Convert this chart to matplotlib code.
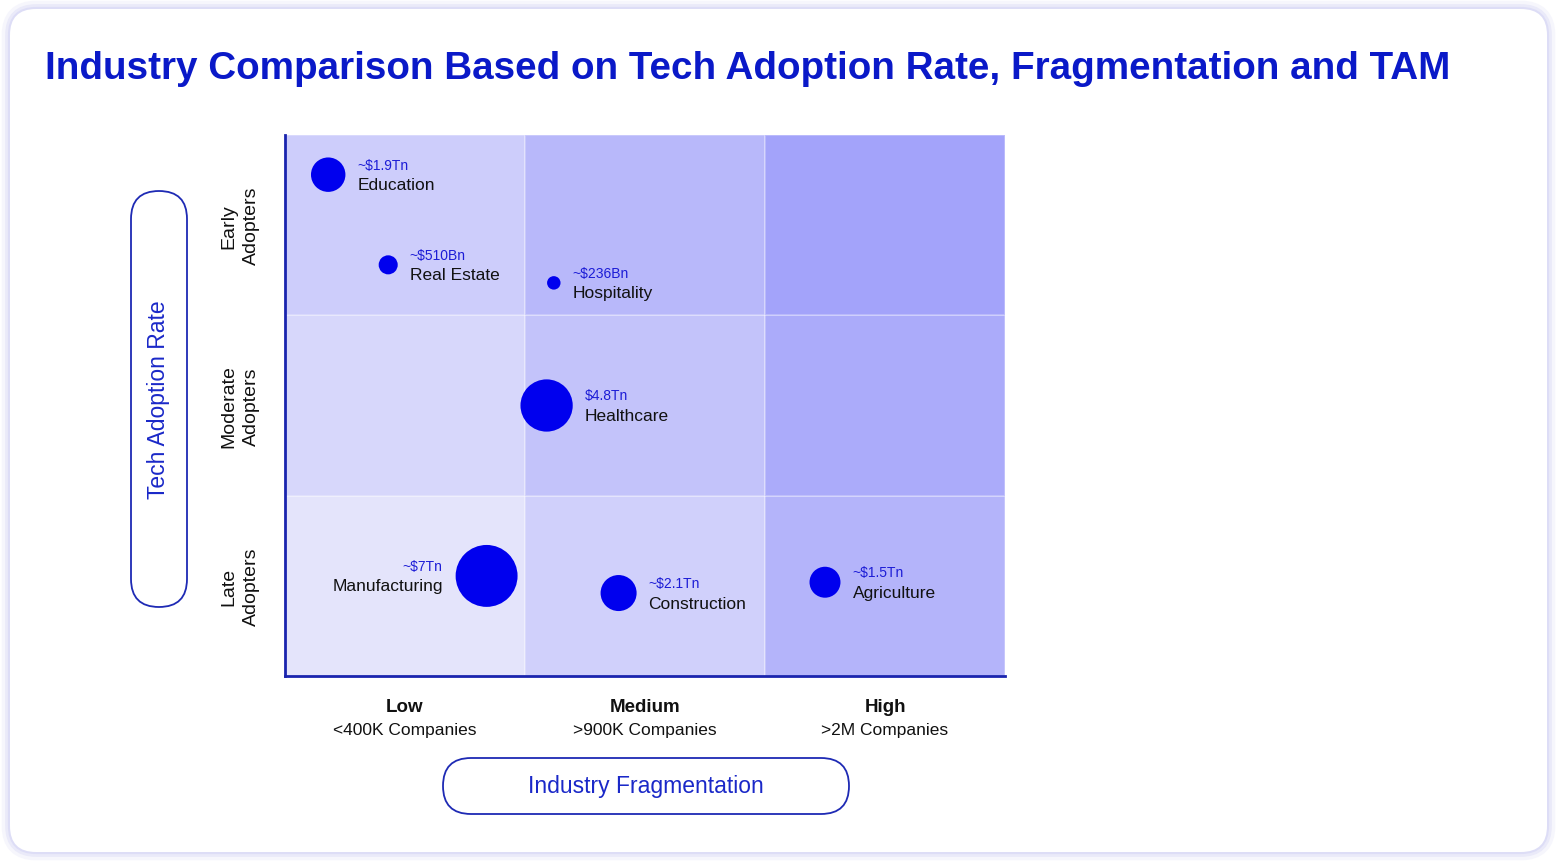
import matplotlib
matplotlib.use('Agg')
import matplotlib.pyplot as plt
import matplotlib.transforms as mtransforms
from matplotlib.patches import FancyBboxPatch, Rectangle
import numpy as np

plt.rcParams['font.family'] = ['Liberation Sans', 'DejaVu Sans']

# data
industries = ['Education', 'Real Estate', 'Hospitality', 'Healthcare',
              'Manufacturing', 'Construction', 'Agriculture']
tam_labels = ['~$1.9Tn', '~$510Bn', '~$236Bn', '$4.8Tn', '~$7Tn', '~$2.1Tn', '~$1.5Tn']
tam_tn = [1.9, 0.51, 0.236, 4.8, 7.0, 2.1, 1.5]
fragmentation = [0.18, 0.43, 1.12, 1.09, 0.84, 1.39, 2.25]   # 0..3, Low/Medium/High bands
adoption = [2.78, 2.28, 2.18, 1.50, 0.555, 0.46, 0.52]       # 0..3, Late/Moderate/Early bands

frag_levels = ['Low', 'Medium', 'High']
frag_counts = ['<400K Companies', '>900K Companies', '>2M Companies']
adoption_levels = ['Late\nAdopters', 'Moderate\nAdopters', 'Early\nAdopters']

W, H, DPI = 1556, 862, 100
fig = plt.figure(figsize=(W / DPI, H / DPI), dpi=DPI)
fig.patch.set_facecolor('white')
pix = mtransforms.IdentityTransform()

# card with soft lavender border
for lw, a in [(12, 0.25), (7, 0.45), (3, 0.9)]:
    fig.patches.append(FancyBboxPatch((10, 9), 1537, 843, boxstyle='round,pad=0,rounding_size=26',
                                      transform=pix, facecolor='none', edgecolor='#DCDCF6',
                                      linewidth=lw, alpha=a, zorder=-2))
fig.patches.append(FancyBboxPatch((10, 9), 1537, 843, boxstyle='round,pad=0,rounding_size=26',
                                  transform=pix, facecolor='white', edgecolor='none', zorder=-1))

fig.text(45 / W, 1 - 69 / H, 'Industry Comparison Based on Tech Adoption Rate, Fragmentation and TAM',
         fontsize=27.8, fontweight='bold', color='#0A19C8', ha='left', va='center')

ax = fig.add_axes([285 / W, 1 - 677 / H, 720 / W, 541 / H])
ax.set_xlim(0, 3)
ax.set_ylim(0, 3)
ax.set_facecolor('none')

shades = [['#E4E4FB', '#D0D0FB', '#B4B4FA'],
          ['#D7D7FB', '#C3C3FA', '#ABABFA'],
          ['#CDCDFB', '#B8B8FA', '#A3A3FA']]
for r in range(3):
    for c in range(3):
        ax.add_patch(Rectangle((c, r), 1, 1, facecolor=shades[r][c], edgecolor=(1, 1, 1, 0.3),
                               linewidth=1.2, zorder=1))

for s in ['top', 'right']:
    ax.spines[s].set_visible(False)
for s in ['left', 'bottom']:
    ax.spines[s].set_color('#1A24AE')
    ax.spines[s].set_linewidth(2)
    ax.spines[s].set_zorder(5)
ax.set_xticks([])
ax.set_yticks([])

# bubbles, scaled from TAM
radius_px = 12.9 * np.array(tam_tn) ** 0.45
sizes = (2 * radius_px * 72 / DPI) ** 2
ax.scatter(fragmentation, adoption, s=sizes, color='#0000EE', edgecolors='none', zorder=3)

for name, lab, x, y, r in zip(industries, tam_labels, fragmentation, adoption, radius_px):
    if name == 'Manufacturing':
        dx, ha = -(r + 13), 'right'
    else:
        dx, ha = r + 12, 'left'
    ax.annotate(lab, (x, y), xytext=(dx, 10), textcoords='offset pixels', ha=ha, va='center',
                fontsize=10, color='#1C1CD6', zorder=4)
    ax.annotate(name, (x, y), xytext=(dx, -10), textcoords='offset pixels', ha=ha, va='center',
                fontsize=12.5, color='#111111', zorder=4)

# category labels
for i, (lvl, cnt) in enumerate(zip(frag_levels, frag_counts)):
    ax.annotate(lvl, (i + 0.5, 0), xycoords=('data', 'axes fraction'), xytext=(0, -31),
                textcoords='offset pixels', ha='center', va='center', fontsize=13.5,
                fontweight='bold', color='#111111')
    ax.annotate(cnt, (i + 0.5, 0), xycoords=('data', 'axes fraction'), xytext=(0, -54),
                textcoords='offset pixels', ha='center', va='center', fontsize=12.5, color='#111111')
for i, lvl in enumerate(adoption_levels):
    ax.annotate(lvl, (0, i + 0.5), xycoords=('axes fraction', 'data'), xytext=(-45, 0),
                textcoords='offset pixels', ha='center', va='center', rotation=90,
                fontsize=14, color='#111111', linespacing=1.4, multialignment='center')

# axis title pills
fig.patches.append(FancyBboxPatch((131, 254), 56, 416, boxstyle='round,pad=0,rounding_size=28',
                                  transform=pix, facecolor='white', edgecolor='#1E2AB4', linewidth=1.3))
fig.text(158 / W, 1 - 400 / H, 'Tech Adoption Rate', rotation=90, ha='center', va='center',
         fontsize=16.5, color='#1A28C8')
fig.patches.append(FancyBboxPatch((443, 47), 406, 56, boxstyle='round,pad=0,rounding_size=28',
                                  transform=pix, facecolor='white', edgecolor='#1E2AB4', linewidth=1.3))
fig.text(646 / W, 1 - 787 / H, 'Industry Fragmentation', ha='center', va='center',
         fontsize=16.5, color='#1A28C8')

fig.savefig('out.png', dpi=DPI, facecolor='white')
